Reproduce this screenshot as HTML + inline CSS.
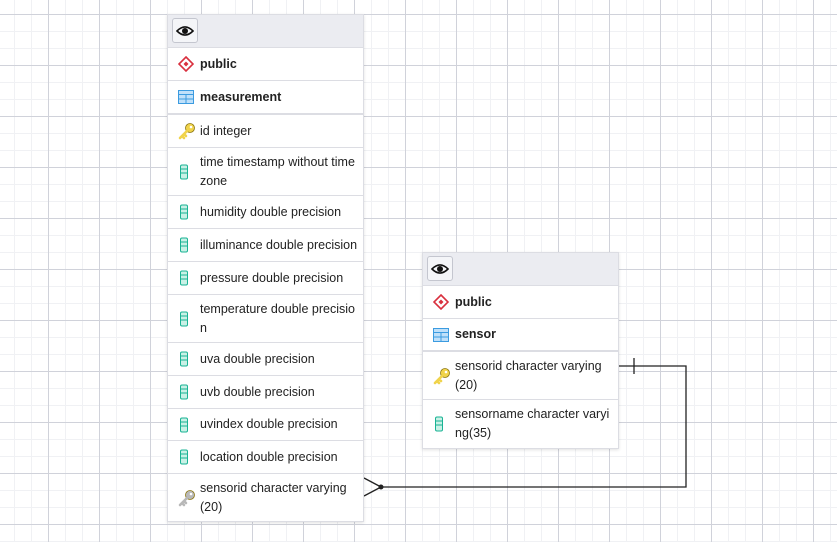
<!DOCTYPE html>
<html><head><style>
body{margin:0;width:837px;height:542px;overflow:hidden;background:#fff;font-family:"Liberation Sans",sans-serif;font-size:12.5px;color:#222;position:relative;
background-image:linear-gradient(#d0d2da 1px,transparent 1px),linear-gradient(90deg,#d0d2da 1px,transparent 1px),linear-gradient(#f0f1f4 1px,transparent 1px),linear-gradient(90deg,#f0f1f4 1px,transparent 1px);
background-size:51px 51px,51px 51px,17px 17px,17px 17px;background-position:0 14px,48px 0,0 14px,48px 0;}
.t{position:absolute;width:195px;background:#fff;border:1px solid #dcdde3;box-shadow:0 1px 3px rgba(0,0,0,.12);}
.h{height:32px;background:#ebecf1;border-bottom:1px solid #dcdde3;position:relative}
.eye{position:absolute;left:4px;top:3px;width:26px;height:25px;border:1px solid #c4c6cf;border-radius:3px;background:#f4f5f8;box-sizing:border-box;display:flex;align-items:center;justify-content:center}
.r{border-bottom:1px solid #dcdde3;position:relative;padding:0 4px 0 32px;line-height:19px;display:flex;align-items:center;box-sizing:border-box}
.r:last-child{border-bottom:none}
.b{font-weight:bold}
.ic{position:absolute;left:10px;top:50%;transform:translateY(-50%);display:flex}
.thick{border-bottom:2px solid #dcdde3}
.col{width:8px;height:15px;border:1.5px solid #19b394;border-radius:2px;box-sizing:border-box;background:linear-gradient(#19b394,#19b394) 0 3px/100% 1px no-repeat,linear-gradient(#19b394,#19b394) 0 7px/100% 1px no-repeat,#c9f1e6;left:12px}
</style></head><body>
<svg width="0" height="0" style="position:absolute"><defs>
<symbol id="eye" viewBox="0 0 18 12"><path d="M1 6 Q9 -2 17 6 Q9 14 1 6Z" fill="none" stroke="#111" stroke-width="1.6"/><circle cx="9" cy="6" r="3" fill="#111"/></symbol>
<symbol id="sch" viewBox="0 0 16 16"><path d="M8 1 L15 8 L8 15 L1 8Z" fill="#fff" stroke="#d9303e" stroke-width="1.6"/><path d="M8 5.5 L10.5 8 L8 10.5 L5.5 8Z" fill="#d9303e"/></symbol>
<symbol id="tbl" viewBox="0 0 16 14"><rect x="0.5" y="0.5" width="15" height="13" fill="#bfe0fa" stroke="#3b9be0"/><line x1="0" y1="4.5" x2="16" y2="4.5" stroke="#3b9be0"/><line x1="8" y1="4" x2="8" y2="14" stroke="#3b9be0"/><line x1="0" y1="9" x2="16" y2="9" stroke="#3b9be0"/></symbol>
<symbol id="key" viewBox="0 0 18 18"><circle cx="12" cy="6" r="4.5" fill="currentColor" stroke="#8a7510" stroke-width="0.8"/><circle cx="13" cy="5" r="1.3" fill="#fff"/><path d="M9 9 L2 16 M4 14 L6 16 M6 12 L8 14" stroke="currentColor" stroke-width="2.6" fill="none" stroke-linecap="round"/></symbol>
</defs></svg>
<svg width="837" height="542" style="position:absolute;left:0;top:0">
<polyline points="618,366 686,366 686,487 381,487" fill="none" stroke="#222" stroke-width="1.3"/>
<line x1="634" y1="358" x2="634" y2="374" stroke="#222" stroke-width="1.3"/>
<line x1="364" y1="478" x2="381" y2="487" stroke="#222" stroke-width="1.3"/>
<line x1="364" y1="496" x2="381" y2="487" stroke="#222" stroke-width="1.3"/>
<circle cx="381" cy="487" r="2.5" fill="#222"/>
</svg>
<div class="t" style="left:167px;top:14px">
<div class="h"><div class="eye"><svg width="18" height="12"><use href="#eye"/></svg></div></div>
<div class="r b" style="height:33px"><span class="ic"><svg width="16" height="16"><use href="#sch"/></svg></span>public</div>
<div class="r b thick" style="height:34px"><span class="ic"><svg width="16" height="14"><use href="#tbl"/></svg></span>measurement</div>
<div class="r" style="height:33px"><span class="ic" style="color:#f0d34a"><svg width="18" height="18"><use href="#key"/></svg></span>id integer</div>
<div class="r" style="height:48px"><span class="ic col"></span>time timestamp without time zone</div>
<div class="r" style="height:33px"><span class="ic col"></span>humidity double precision</div>
<div class="r" style="height:33px"><span class="ic col"></span>illuminance double precision</div>
<div class="r" style="height:33px"><span class="ic col"></span>pressure double precision</div>
<div class="r" style="height:48px"><span class="ic col"></span>temperature double precisio n</div>
<div class="r" style="height:33px"><span class="ic col"></span>uva double precision</div>
<div class="r" style="height:33px"><span class="ic col"></span>uvb double precision</div>
<div class="r" style="height:32px"><span class="ic col"></span>uvindex double precision</div>
<div class="r" style="height:33px"><span class="ic col"></span>location double precision</div>
<div class="r" style="height:47px"><span class="ic" style="color:#b8b8b8"><svg width="18" height="18"><use href="#key"/></svg></span>sensorid character varying (20)</div>
</div>
<div class="t" style="left:422px;top:252px">
<div class="h"><div class="eye"><svg width="18" height="12"><use href="#eye"/></svg></div></div>
<div class="r b" style="height:33px"><span class="ic"><svg width="16" height="16"><use href="#sch"/></svg></span>public</div>
<div class="r b thick" style="height:33px"><span class="ic"><svg width="16" height="14"><use href="#tbl"/></svg></span>sensor</div>
<div class="r" style="height:48px"><span class="ic" style="color:#f0d34a"><svg width="18" height="18"><use href="#key"/></svg></span>sensorid character varying (20)</div>
<div class="r" style="height:48px"><span class="ic col"></span>sensorname character varyi ng(35)</div>
</div>
</body></html>
